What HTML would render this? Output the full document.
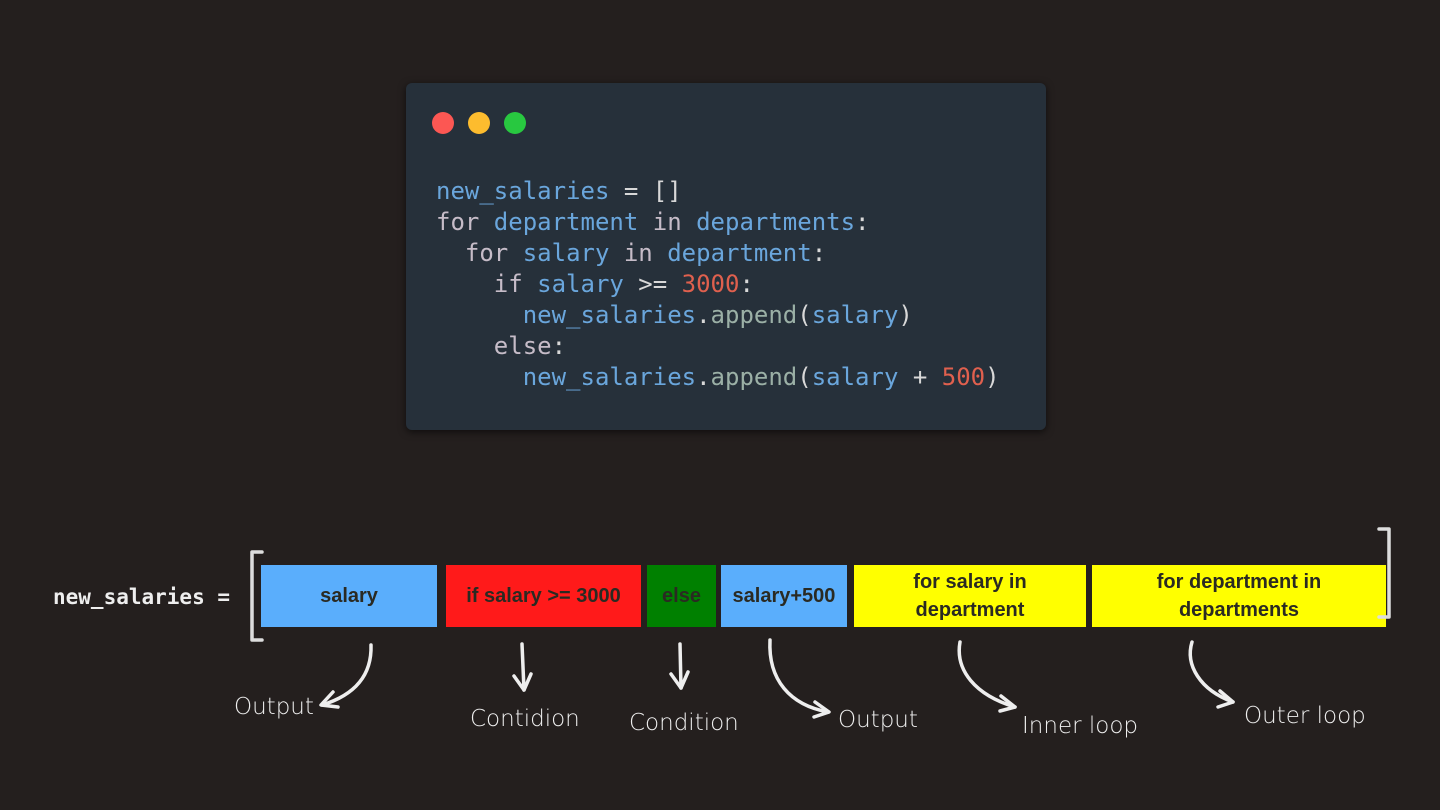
<!DOCTYPE html>
<html><head><meta charset="utf-8"><style>
body{margin:0;width:1440px;height:810px;background:#241f1e;position:relative;overflow:hidden;font-family:"Liberation Sans",sans-serif}
.code{position:absolute;left:406px;top:83px;width:640px;height:347px;background:#26303a;border-radius:6px;box-shadow:0 2px 8px rgba(0,0,0,.6)}
.dot{position:absolute;top:112px;width:22px;height:22px;border-radius:50%}
pre{position:absolute;left:436px;top:176px;margin:0;font-family:"DejaVu Sans Mono","Liberation Mono",monospace;font-size:24px;line-height:31px;color:#6aa6dc}
.k{color:#c6bcc8}.n{color:#e0604e}.w{color:#d8d8d8}.f{color:#9bb0a6}
.b{position:absolute;top:565px;height:62px;display:flex;align-items:center;justify-content:center;text-align:center;font-weight:bold;font-size:20px;color:#2a2a22;line-height:28px}
.lbl{position:absolute;color:#eee;font-size:23px;font-family:"DejaVu Sans","Liberation Sans",sans-serif;font-weight:200}
</style></head><body>
<div class="code"></div>
<div class="dot" style="left:432px;background:#fc5753"></div>
<div class="dot" style="left:468px;background:#fdbc2e"></div>
<div class="dot" style="left:504px;background:#28c840"></div>
<pre>new_salaries <span class="w">= []</span>
<span class="k">for</span> department <span class="k">in</span> departments<span class="w">:</span>
  <span class="k">for</span> salary <span class="k">in</span> department<span class="w">:</span>
    <span class="k">if</span> salary <span class="w">&gt;=</span> <span class="n">3000</span><span class="w">:</span>
      new_salaries<span class="w">.</span><span class="f">append</span><span class="w">(</span>salary<span class="w">)</span>
    <span class="k">else</span><span class="w">:</span>
      new_salaries<span class="w">.</span><span class="f">append</span><span class="w">(</span>salary <span class="w">+</span> <span class="n">500</span><span class="w">)</span></pre>
<div style="position:absolute;left:53px;top:585px;color:#eee;font-family:'DejaVu Sans Mono',monospace;font-weight:bold;font-size:21px">new_salaries =</div>
<div class="b" style="left:261px;width:176px;background:#5aaefc">salary</div>
<div class="b" style="left:446px;width:195px;background:#ff1a1a">if salary &gt;= 3000</div>
<div class="b" style="left:647px;width:69px;background:#008000">else</div>
<div class="b" style="left:721px;width:126px;background:#5aaefc">salary+500</div>
<div class="b" style="left:854px;width:232px;background:#ffff00">for salary in<br>department</div>
<div class="b" style="left:1092px;width:294px;background:#ffff00">for department in<br>departments</div>
<svg width="1440" height="810" style="position:absolute;left:0;top:0" fill="none" stroke="#eee" stroke-width="3.5" stroke-linecap="round" stroke-linejoin="round">
<path d="M262 552 H252 V640 H262" stroke="#ddd"/>
<path d="M1379 529 H1389 V617 H1379" stroke="#ddd"/>
<path d="M371 645 C372 675 355 695 322 705"/><path d="M333 692 L321 705 L338 707"/>
<path d="M522 644 L524 690"/><path d="M514 676 L524 690 L531 674"/>
<path d="M680 644 L681 688"/><path d="M671 674 L681 688 L688 672"/>
<path d="M770 640 C768 680 790 705 828 712"/><path d="M815 702 L829 712 L814 717"/>
<path d="M960 642 C955 670 975 695 1015 707"/><path d="M1001 696 L1015 707 L1000 711"/>
<path d="M1192 642 C1185 665 1200 690 1233 702"/><path d="M1220 691 L1233 702 L1218 707"/>
</svg>
<div class="lbl" style="left:234px;top:694px">Output</div>
<div class="lbl" style="left:470px;top:706px">Contidion</div>
<div class="lbl" style="left:629px;top:710px">Condition</div>
<div class="lbl" style="left:838px;top:707px">Output</div>
<div class="lbl" style="left:1022px;top:713px">Inner loop</div>
<div class="lbl" style="left:1244px;top:703px">Outer loop</div>
</body></html>
